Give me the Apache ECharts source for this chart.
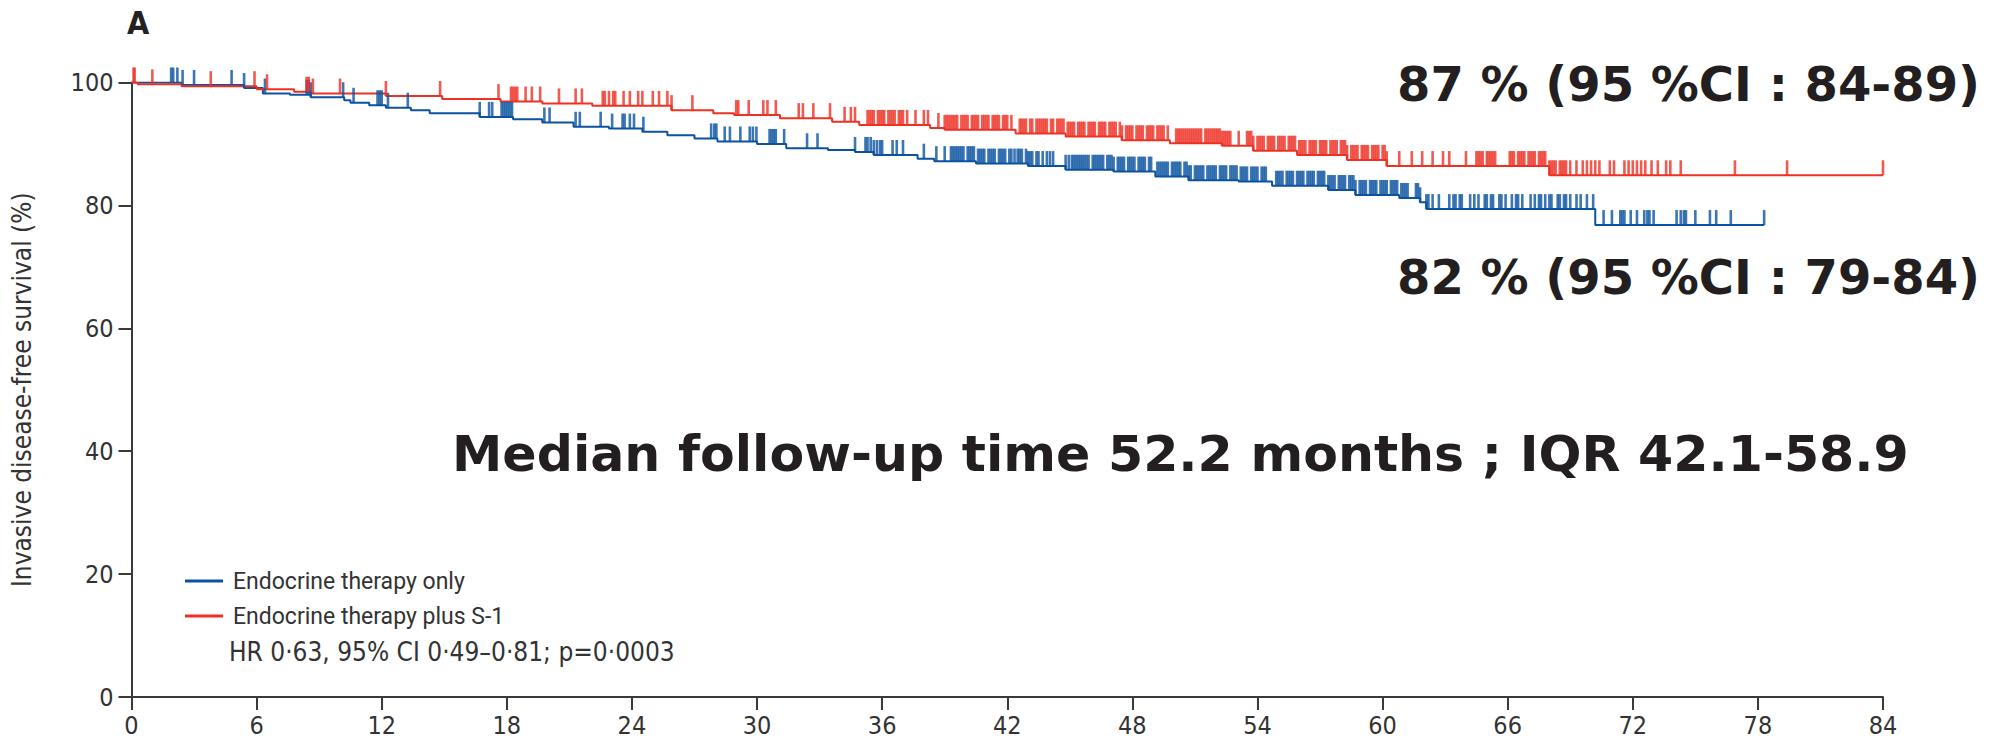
<!DOCTYPE html>
<html><head><meta charset="utf-8">
<script src="https://cdn.jsdelivr.net/npm/echarts@6/dist/echarts.min.js"></script>
<style>html,body{margin:0;padding:0;background:#fff}#c{width:2013px;height:744px}</style>
</head><body><div id="c"></div>
<script>
// ---------- data ----------
const xTickLabels = [0, 6, 12, 18, 24, 30, 36, 42, 48, 54, 60, 66, 72, 78, 84];
const yTickLabels = [0, 20, 40, 60, 80, 100];
const seriesNames = ['Endocrine therapy only', 'Endocrine therapy plus S-1'];

// Endocrine therapy only (blue): step times (months) and survival (%) after each step
const blueTimes = [0, 2.4, 5.4, 6.3, 7.6, 8.6, 10.2, 10.5, 11.4, 12.2, 13.4, 14.3, 16.7, 18.3, 19.7, 21.2, 22.9, 24.5, 25.7, 27.0, 28.1, 30.0, 31.4, 33.4, 34.7, 35.6, 37.7, 38.5, 40.5, 43.0, 44.8, 47.1, 49.1, 50.7, 53.1, 54.7, 57.4, 58.7, 60.8, 61.8, 62.1, 70.2, 78.3];
const blueSurv  = [100, 99.6, 99.1, 98.2, 98.0, 97.6, 97.1, 96.7, 96.3, 95.9, 95.5, 95.0, 94.4, 94.0, 93.5, 92.8, 92.5, 92.0, 91.4, 90.9, 90.4, 90.0, 89.3, 89.0, 88.7, 88.2, 87.6, 87.2, 86.8, 86.4, 85.8, 85.5, 84.7, 84.1, 83.9, 83.2, 82.5, 81.7, 81.2, 80.5, 79.4, 76.8, 76.8];

// Endocrine therapy plus S-1 (red)
const redTimes = [0, 0.3, 2.4, 6.0, 7.8, 8.6, 12.2, 14.9, 17.7, 19.7, 22.1, 25.9, 27.9, 28.9, 31.1, 33.6, 34.9, 38.3, 39.0, 42.4, 44.8, 47.5, 49.8, 52.3, 53.8, 55.9, 58.3, 60.2, 68.0, 84.0];
const redSurv  = [100, 99.7, 99.4, 98.9, 98.5, 98.2, 97.8, 97.3, 96.9, 96.6, 96.2, 95.5, 95.0, 94.7, 94.2, 93.6, 93.1, 92.6, 92.3, 91.7, 91.2, 90.6, 90.1, 89.7, 88.9, 88.2, 87.4, 86.4, 84.9, 84.9];

// censoring times (months)
const blueCensor = [1.9, 2.0, 2.2, 2.45, 3.0, 4.8, 5.4, 6.4, 8.4, 8.5, 8.6, 10.15, 10.65, 11.8, 11.9, 12.0, 12.3, 13.25, 16.7, 17.15, 17.3, 17.75, 17.85, 17.95, 18.05, 18.15, 18.25, 19.8, 20.05, 21.3, 21.5, 22.5, 23.05, 23.55, 23.65, 23.9, 24.1, 24.55,
  27.8, 27.95, 28.05, 28.45, 28.7, 29.2, 29.65, 29.8, 29.97, 30.6, 30.7, 30.8, 30.9, 31.3, 32.4, 32.9, 34.7,
  35.2, 35.3, 35.45, 35.6, 35.75, 35.9, 36.0, 36.5, 36.7, 37.0, 38.0, 38.6, 39.0,
  39.3, 39.4, 39.5, 39.6, 39.7, 39.8, 39.9, 40.1, 40.2, 40.3, 40.4, 40.6, 40.7, 40.8, 40.9, 41.1, 41.2, 41.3, 41.4, 41.6, 41.7, 41.8, 41.9, 42.1, 42.2,
  42.35, 42.5, 42.6, 42.7, 42.9, 43.0, 43.1, 43.2, 43.4, 43.5, 43.7, 43.9, 44.05, 44.2,
  44.8, 44.95, 45.1, 45.2, 45.3, 45.4, 45.5, 45.6, 45.7, 45.8, 45.9, 46.1, 46.2, 46.3, 46.4, 46.5, 46.6, 46.8, 46.9, 47.0, 47.1, 47.3, 47.4, 47.5, 47.6, 47.8, 47.9, 48.0, 48.1, 48.3, 48.4, 48.5, 48.6, 48.8, 48.9,
  49.2, 49.3, 49.4, 49.5, 49.6, 49.7, 49.9, 50.0, 50.1, 50.2, 50.3, 50.5, 50.6, 50.7, 50.8, 51.0, 51.1, 51.2, 51.3, 51.4, 51.6,
  51.7, 51.8, 51.9, 52.0, 52.2, 52.3, 52.4, 52.5, 52.7, 52.8, 52.9, 53.0, 53.2, 53.3, 53.4, 53.5, 53.7, 53.8, 53.9, 54.0, 54.2, 54.3, 54.4,
  54.9, 55.0, 55.1, 55.2, 55.4, 55.5, 55.6, 55.7, 55.9, 56.0, 56.1, 56.2, 56.4, 56.5, 56.6, 56.7, 56.9, 57.0, 57.1, 57.2, 57.4, 57.5, 57.6, 57.7, 57.9, 58.0, 58.1, 58.2, 58.4, 58.5, 58.6, 58.7, 58.9,
  59.0, 59.1, 59.2, 59.4, 59.5, 59.6, 59.7, 59.9, 60.0, 60.1, 60.2, 60.4, 60.5, 60.6, 60.7, 60.9, 61.0, 61.1, 61.2, 61.6, 61.7, 61.8,
  62.1, 62.2, 62.4, 62.7, 63.2, 63.4, 63.5, 63.7, 63.8, 64.2, 64.4, 64.6, 64.9, 65.0, 65.2, 65.3, 65.6, 65.7, 65.9, 66.2, 66.4, 66.5, 66.7, 67.1, 67.3, 67.5, 67.6, 67.8, 68.0, 68.1, 68.4, 68.5, 68.7, 68.8, 69.0, 69.3, 69.5, 69.8, 70.1,
  70.6, 71.0, 71.4, 71.5, 71.6, 71.9, 72.2, 72.55, 72.7, 72.8, 73.0, 74.1, 74.3, 74.45, 74.55, 75.0, 75.7, 76.0, 76.7, 78.3];

const redCensor = [0.1, 0.15, 1.0, 3.8, 5.9, 6.5, 8.4, 8.5, 8.7, 10.0, 12.2, 14.8, 17.6, 18.2, 18.3, 18.4, 18.5, 18.9, 19.2, 19.6, 20.5, 21.3, 21.6, 22.6, 22.7, 22.9, 23.1, 23.2, 23.6, 23.9, 24.3, 24.5, 25.0, 25.3, 25.7, 25.9, 26.9,
  29.0, 29.1, 29.6, 30.3, 30.5, 30.9, 32.0, 32.2, 32.7, 33.5, 34.2, 34.5, 34.7,
  35.3, 35.4, 35.5, 35.6, 35.8, 35.9, 36.0, 36.1, 36.3, 36.4, 36.5, 36.6, 36.8, 36.9, 37.0, 37.2, 37.6, 38.0, 38.2, 38.7,
  39.0, 39.1, 39.2, 39.3, 39.4, 39.5, 39.6, 39.8, 39.9, 40.0, 40.1, 40.3, 40.4, 40.5, 40.6, 40.8, 40.9, 41.0, 41.1, 41.3, 41.4, 41.5, 41.6, 41.8, 41.9, 42.0, 42.2,
  42.6, 42.7, 42.8, 42.9, 43.1, 43.2, 43.4, 43.5, 43.6, 43.7, 43.8, 43.9, 44.1, 44.2, 44.4, 44.5, 44.6, 44.7,
  44.9, 45.0, 45.1, 45.2, 45.4, 45.5, 45.6, 45.7, 45.9, 46.0, 46.1, 46.2, 46.4, 46.5, 46.6, 46.7, 46.9, 47.0, 47.1, 47.2, 47.4, 47.5,
  47.7, 47.8, 47.9, 48.0, 48.2, 48.3, 48.4, 48.5, 48.7, 48.8, 48.9, 49.0, 49.2, 49.3, 49.4, 49.5, 49.7,
  50.1, 50.2, 50.3, 50.4, 50.5, 50.6, 50.7, 50.8, 50.9, 51.0, 51.1, 51.2, 51.3, 51.5, 51.6, 51.7, 51.8, 51.9, 52.0, 52.1, 52.2, 52.3, 52.4, 52.5, 52.6, 52.7, 53.1,
  53.5, 53.6, 53.7, 53.8, 54.0, 54.1, 54.2, 54.3, 54.5, 54.6, 54.7, 54.8, 55.0, 55.1, 55.2, 55.3, 55.5, 55.6, 55.7, 55.8, 56.0, 56.1, 56.2, 56.3, 56.5, 56.6, 56.7, 56.8, 57.0, 57.1, 57.2, 57.3, 57.5, 57.6, 57.7, 57.8,
  58.0, 58.1, 58.2, 58.3, 58.5, 58.6, 58.7, 58.8, 59.0, 59.1, 59.2, 59.3, 59.5, 59.6, 59.7, 59.8, 60.0, 60.1, 60.2,
  60.8, 61.4, 61.9, 62.4, 62.9, 63.2, 64.0,
  64.5, 64.6, 64.7, 64.8, 65.0, 65.1, 65.2, 65.3, 65.4,
  66.1, 66.2, 66.3, 66.5, 66.6, 66.7, 66.8, 67.0, 67.1, 67.2, 67.3, 67.5, 67.6, 67.7, 67.8, 68.0, 68.1, 68.2, 68.3, 68.5, 68.6, 68.7, 68.8, 69.0, 69.3, 69.6, 69.8, 70.0, 70.2, 70.4, 70.9, 71.1, 71.6, 71.8, 72.0, 72.2, 72.4, 72.6,
  72.9, 73.2, 73.6, 73.8, 74.3, 76.9, 79.4, 84.0];

// ---------- chart ----------
const BLUE = '#0b52a0', RED = '#ee3124', INK = '#333333';
const COND = "'DejaVu Sans Condensed', 'DejaVu Sans', sans-serif";

function survAt(times, surv, t) {
  let v = surv[0];
  for (let i = 0; i < times.length; i++) if (times[i] <= t) v = surv[i];
  return v;
}
const stepData = (times, surv) => times.map((t, i) => [t, surv[i]]);
const censorData = (cens, times, surv) => cens.map(t => [t, survAt(times, surv, t)]);

const chart = echarts.init(document.getElementById('c'), null, { renderer: 'svg' });
chart.setOption({
  animation: false,
  backgroundColor: '#fff',
  grid: { left: 131.5, right: 130, top: 82.5, bottom: 47 },
  xAxis: {
    type: 'value', min: xTickLabels[0], max: xTickLabels[xTickLabels.length - 1], interval: 6,
    axisLine: { lineStyle: { color: '#3a3a3a', width: 2 } },
    axisTick: { length: 13, lineStyle: { color: '#3a3a3a', width: 2 } },
    axisLabel: { fontSize: 25, fontFamily: COND, color: INK, margin: 16 },
    splitLine: { show: false }
  },
  yAxis: {
    type: 'value', min: yTickLabels[0], max: yTickLabels[yTickLabels.length - 1], interval: 20,
    name: 'Invasive disease-free survival (%)', nameLocation: 'middle', nameGap: 97,
    nameTextStyle: { fontSize: 26, fontFamily: COND, color: INK },
    axisLine: { show: true, lineStyle: { color: '#3a3a3a', width: 2 } },
    axisTick: { show: true, length: 13, lineStyle: { color: '#3a3a3a', width: 2 } },
    axisLabel: { fontSize: 25, fontFamily: COND, color: INK, margin: 18 },
    splitLine: { show: false }
  },
  legend: {
    data: seriesNames, orient: 'vertical', left: 180, top: 563,
    itemWidth: 38, itemHeight: 3, itemGap: 9, icon: 'rect',
    textStyle: { fontSize: 23, fontFamily: "Roboto, 'Liberation Sans', sans-serif", color: INK, lineHeight: 26, padding: [0, 0, 0, 5] }
  },
  series: [
    { name: seriesNames[0], type: 'line', step: 'end', data: stepData(blueTimes, blueSurv),
      symbol: 'none', lineStyle: { color: BLUE, width: 2 }, itemStyle: { color: BLUE }, z: 2 },
    { name: seriesNames[1], type: 'line', step: 'end', data: stepData(redTimes, redSurv),
      symbol: 'none', lineStyle: { color: RED, width: 2 }, itemStyle: { color: RED }, z: 2 },
    { name: 'censor-blue', type: 'scatter', data: censorData(blueCensor, blueTimes, blueSurv),
      symbol: 'rect', symbolSize: [2.6, 15], symbolOffset: [0, -7.5], itemStyle: { color: BLUE }, silent: true, z: 3 },
    { name: 'censor-red', type: 'scatter', data: censorData(redCensor, redTimes, redSurv),
      symbol: 'rect', symbolSize: [2.6, 15], symbolOffset: [0, -7.5], itemStyle: { color: RED }, silent: true, z: 3 }
  ],
  graphic: [
    { type: 'text', x: 127, y: 23, style: { text: 'A', font: "bold 32px 'DejaVu Sans Condensed', sans-serif", fill: '#222', verticalAlign: 'middle' } },
    { type: 'text', x: 1980, y: 84, style: { text: '87 % (95 %CI : 84-89)', font: "bold 48px 'DejaVu Sans', sans-serif", fill: '#231f20', align: 'right', verticalAlign: 'middle' } },
    { type: 'text', x: 1980, y: 277, style: { text: '82 % (95 %CI : 79-84)', font: "bold 48px 'DejaVu Sans', sans-serif", fill: '#231f20', align: 'right', verticalAlign: 'middle' } },
    { type: 'text', x: 452, y: 453, style: { text: 'Median follow-up time 52.2 months ; IQR 42.1-58.9', font: "bold 50.6px 'DejaVu Sans', sans-serif", fill: '#231f20', align: 'left', verticalAlign: 'middle' } },
    { type: 'text', x: 229, y: 652, style: { text: 'HR 0·63, 95% CI 0·49–0·81; p=0·0003', font: "26px 'DejaVu Sans Condensed', sans-serif", fill: INK, align: 'left', verticalAlign: 'middle' } }
  ]
});
</script>
</body></html>
